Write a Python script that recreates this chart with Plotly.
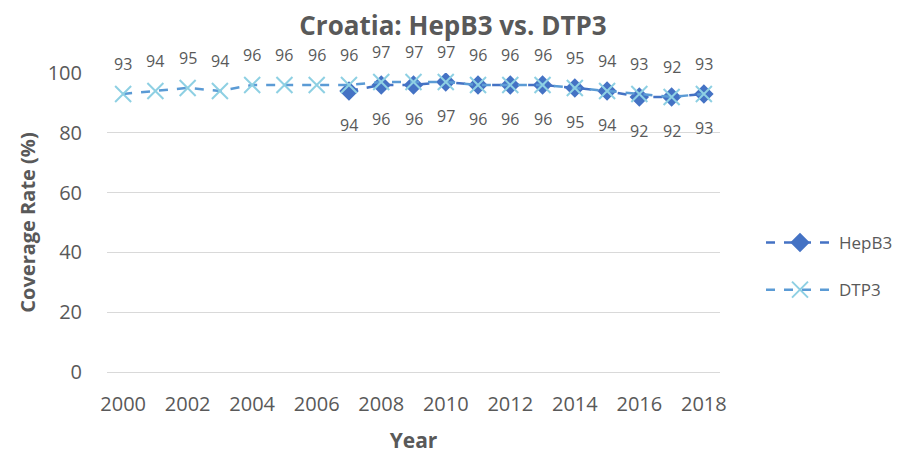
import plotly.graph_objects as go

years = list(range(2000, 2019))
dtp3 = [93, 94, 95, 94, 96, 96, 96, 96, 97, 97, 97, 96, 96, 96, 95, 94, 93, 92, 93]
hep_years = list(range(2007, 2019))
hepb3 = [94, 96, 96, 97, 96, 96, 96, 95, 94, 92, 92, 93]
x_ticks = list(range(2000, 2019, 2))

FONT = "Open Sans"
GRAY = "#595959"

W, H = 898, 446
L, T = 99, 65
PW, PH = 613, 299
R, B = W - L - PW, H - T - PH

fig = go.Figure()
fig.add_trace(go.Scatter(
    x=hep_years, y=hepb3, name="HepB3", mode="lines+markers", legendgroup="a",
    line=dict(color="#4472C4", width=2.5, dash="dash"),
    marker=dict(symbol="diamond", size=15, color="#4472C4"),
))
fig.add_trace(go.Scatter(
    x=years, y=dtp3, name="DTP3", mode="lines+markers", legendgroup="b",
    line=dict(color="#5B9BD5", width=2.5, dash="dash"),
    marker=dict(symbol="x-thin", size=16, line=dict(color="#8ED0E3", width=2)),
))

annotations = []
for x, v in zip(years, dtp3):
    annotations.append(dict(x=x, y=v, text=str(v), showarrow=False, yshift=30,
                            font=dict(size=16, color=GRAY, family=FONT)))
for x, v in zip(hep_years, hepb3):
    annotations.append(dict(x=x, y=v, text=str(v), showarrow=False, yshift=-34,
                            font=dict(size=16, color=GRAY, family=FONT)))

fig.update_layout(
    width=W, height=H,
    paper_bgcolor="white", plot_bgcolor="white",
    margin=dict(l=L, r=R, t=T, b=B, autoexpand=False),
    title=dict(text="<b>Croatia: HepB3 vs. DTP3</b>", x=445 / W, xanchor="center",
               y=1 - 18 / H, yanchor="middle",
               font=dict(size=26, color=GRAY, family=FONT)),
    font=dict(family=FONT, color=GRAY),
    annotations=annotations,
    showlegend=True,
    legend=dict(x=(753 - L) / PW, y=(364 - 217) / PH, xanchor="left", yanchor="top",
                font=dict(size=17, color=GRAY, family=FONT), itemwidth=68,
                tracegroupgap=22, traceorder="grouped", bgcolor="rgba(0,0,0,0)"),
    xaxis=dict(range=[1999.5, 2018.5], tickmode="array", tickvals=x_ticks,
               ticktext=[str(t) for t in x_ticks], showgrid=False, zeroline=False,
               showline=True, linecolor="#D9D9D9", linewidth=1, automargin=False,
               ticks="outside", ticklen=14, tickcolor="rgba(0,0,0,0)",
               tickfont=dict(size=20, color=GRAY, family=FONT),
               title=dict(text="<b>Year</b>", font=dict(size=21, color=GRAY, family=FONT), standoff=17)),
    yaxis=dict(range=[0, 100], tickvals=[0, 20, 40, 60, 80, 100], showgrid=True,
               gridcolor="#D9D9D9", gridwidth=1, zeroline=False, showline=False,
               automargin=False,
               tickfont=dict(size=20, color=GRAY, family=FONT),
               ticks="outside", ticklen=20, tickcolor="rgba(0,0,0,0)",
               title=dict(text="<b>Coverage Rate (%)</b>", font=dict(size=20, color=GRAY, family=FONT), standoff=6)),
)

fig.write_html("out.html")
